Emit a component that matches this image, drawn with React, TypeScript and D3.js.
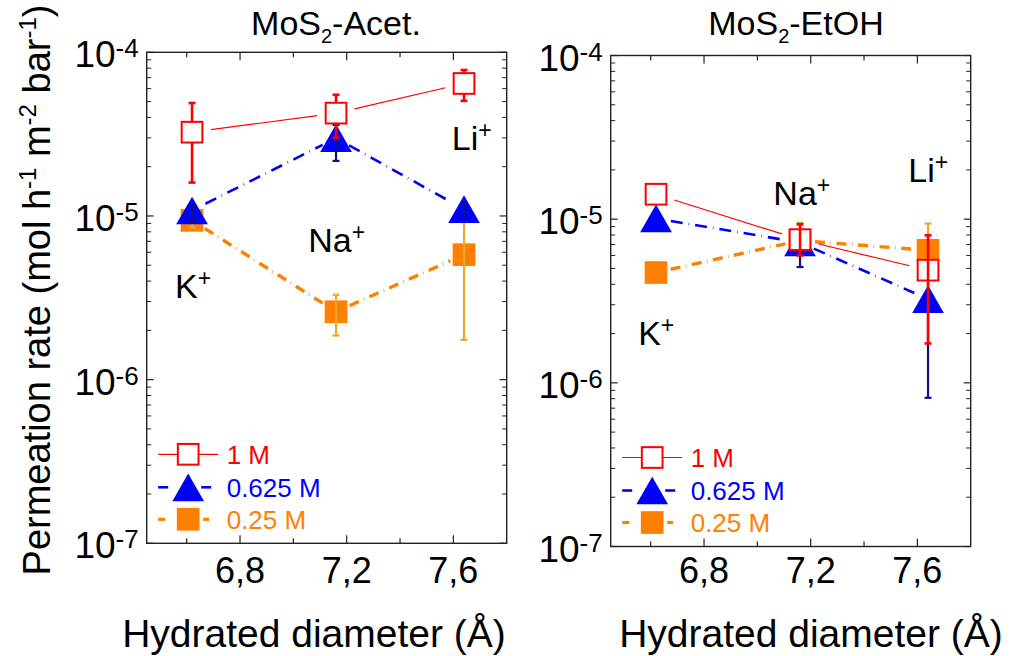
import React from "react";
import * as d3 from "d3";

// ---------- data ----------
const diameters = [6.62, 7.16, 7.64]; // K+, Na+, Li+
const xMajorTicks = [6.8, 7.2, 7.6];
const xMinorTicks = [6.6, 7.0, 7.4];
const xTickLabels = ["6,8", "7,2", "7,6"];
const yDecades = [-7, -6, -5, -4];
const seriesNames = ["1 M", "0.625 M", "0.25 M"];

// MoS2-Acet.
const acet1M = [3.25e-5, 4.25e-5, 6.45e-5];
const acet1MLo = [1.6e-5, 3.0e-5, 5.05e-5];
const acet1MHi = [4.9e-5, 5.5e-5, 7.8e-5];
const acet0625 = [1.08e-5, 2.99e-5, 1.1e-5];
const acet0625Lo = [0.93e-5, 2.17e-5, 0.98e-5];
const acet0625Hi = [1.18e-5, 3.6e-5, 1.2e-5];
const acet025 = [9.4e-6, 2.6e-6, 5.8e-6];
const acet025Lo = [8.5e-6, 1.86e-6, 1.75e-6];
const acet025Hi = [1.04e-5, 3.3e-6, 1.0e-5];

// MoS2-EtOH
const etoh1M = [1.42e-5, 7.5e-6, 4.88e-6];
const etoh1MLo = [null, 6.0e-6, 1.74e-6];
const etoh1MHi = [null, 9.3e-6, 7.97e-6];
const etoh0625 = [1.01e-5, 7.2e-6, 3.25e-6];
const etoh0625Lo = [null, 5.1e-6, 8.1e-7];
const etoh0625Hi = [null, 8.5e-6, 4.6e-6];
const etoh025 = [4.72e-6, 7.4e-6, 6.45e-6];
const etoh025Lo = [null, 6.5e-6, 3.3e-6];
const etoh025Hi = [null, 9.5e-6, 9.4e-6];

// ion annotations (data coordinates)
const acetLabels = [
  { ion: "K", x: 6.556, y: 3.15e-6 },
  { ion: "Na", x: 7.056, y: 6.05e-6 },
  { ion: "Li", x: 7.594, y: 2.53e-5 },
];
const etohLabels = [
  { ion: "K", x: 6.553, y: 1.7e-6 },
  { ion: "Na", x: 7.06, y: 1.22e-5 },
  { ion: "Li", x: 7.566, y: 1.69e-5 },
];

// ---------- styles ----------
const FONT = "'Liberation Sans', Arial, Helvetica, sans-serif";
const RED = "#ff0000";
const BLUE = "#0000ff";
const ORANGE = "#ff8000";
const NAVY = "#101080";
const GOLD = "#eaaa30";

type Style = {
  kind: "open" | "tri" | "sq";
  color: string;
  err: string;
  errW: number;
  lineW: number;
  dash?: string;
  gap: number;
};
const styles: Style[] = [
  { kind: "open", color: RED, err: RED, errW: 2.6, lineW: 1.2, gap: 19 },
  { kind: "tri", color: BLUE, err: NAVY, errW: 2.2, lineW: 2.6, dash: "12 6 0.6 6", gap: 15 },
  { kind: "sq", color: ORANGE, err: GOLD, errW: 2.2, lineW: 3.4, dash: "10 5.5 0.6 5.5", gap: 15 },
];

const SQ = 22.7;
const TW = 31.7;
const TH = 27.7;

function Marker({ kind, x, y }: { kind: string; x: number; y: number }) {
  if (kind === "open")
    return (
      <rect x={x - SQ / 2 + 1} y={y - SQ / 2 + 1} width={SQ - 2} height={SQ - 2} fill="#fff" stroke={RED} strokeWidth={2} />
    );
  if (kind === "sq") return <rect x={x - SQ / 2} y={y - SQ / 2} width={SQ} height={SQ} fill={ORANGE} />;
  const p = `M${x},${y - TH / 2}L${x + TW / 2},${y + TH / 2}L${x - TW / 2},${y + TH / 2}Z`;
  return <path d={p} fill={BLUE} />;
}

type Series = { v: number[]; lo: (number | null)[]; hi: (number | null)[] };

function Panel(props: {
  L: number;
  R: number;
  T: number;
  B: number;
  series: Series[];
  labels: { ion: string; x: number; y: number }[];
  errBehindOpen: boolean;
}) {
  const { L, R, T, B, series, labels, errBehindOpen } = props;
  const x = d3.scaleLinear().domain([6.45, 7.8]).range([L, R]);
  const y = d3.scaleLog().domain([1e-7, 1e-4]).range([B, T]);

  const minorY: number[] = [];
  for (let k = -7; k < -4; k++) for (let m = 2; m <= 9; m++) minorY.push(m * Math.pow(10, k));

  const axisColor = "#222";
  const order = [2, 1, 0];

  const errBars = (s: Series, st: Style) =>
    s.v.map((_, i) => {
      const lo = s.lo[i];
      const hi = s.hi[i];
      if (lo == null || hi == null) return null;
      const cx = x(diameters[i]);
      const cw = 3.5;
      return (
        <g key={"e" + i} stroke={st.err} strokeWidth={st.errW}>
          <line x1={cx} x2={cx} y1={y(hi)} y2={y(lo)} />
          <line x1={cx - cw} x2={cx + cw} y1={y(hi)} y2={y(hi)} />
          <line x1={cx - cw} x2={cx + cw} y1={y(lo)} y2={y(lo)} />
        </g>
      );
    });

  return (
    <g>
      {/* data */}
      {order.map((si) => {
        const s = series[si];
        const st = styles[si];
        const pts = s.v.map((v, i) => [x(diameters[i]), y(v)]);
        const segs = [];
        for (let i = 0; i < pts.length - 1; i++) {
          const [x0, y0] = pts[i];
          const [x1, y1] = pts[i + 1];
          const d = Math.hypot(x1 - x0, y1 - y0);
          const ux = (x1 - x0) / d;
          const uy = (y1 - y0) / d;
          segs.push(
            <line
              key={"l" + i}
              x1={x0 + ux * st.gap}
              y1={y0 + uy * st.gap}
              x2={x1 - ux * st.gap}
              y2={y1 - uy * st.gap}
              stroke={st.color}
              strokeWidth={st.lineW}
              strokeDasharray={st.dash}
            />
          );
        }
        const behind = st.kind === "open" && errBehindOpen;
        return (
          <g key={si}>
            {segs}
            {behind && errBars(s, st)}
            {pts.map((p, i) => (
              <Marker key={"m" + i} kind={st.kind} x={p[0]} y={p[1]} />
            ))}
            {!behind && errBars(s, st)}
          </g>
        );
      })}

      {/* frame */}
      <rect x={L} y={T} width={R - L} height={B - T} fill="none" stroke={axisColor} strokeWidth={1.4} />
      {/* x ticks */}
      {xMajorTicks.map((t) => (
        <g key={"xM" + t} stroke={axisColor} strokeWidth={1.2}>
          <line x1={x(t)} x2={x(t)} y1={B} y2={B - 8} />
          <line x1={x(t)} x2={x(t)} y1={T} y2={T + 8} />
        </g>
      ))}
      {xMinorTicks.map((t) => (
        <g key={"xm" + t} stroke={axisColor} strokeWidth={1.2}>
          <line x1={x(t)} x2={x(t)} y1={B} y2={B - 5} />
          <line x1={x(t)} x2={x(t)} y1={T} y2={T + 5} />
        </g>
      ))}
      {/* y ticks */}
      {yDecades.map((k) => (
        <g key={"yM" + k} stroke={axisColor} strokeWidth={1.2}>
          <line x1={L} x2={L + 7} y1={y(Math.pow(10, k))} y2={y(Math.pow(10, k))} />
          <line x1={R} x2={R - 7} y1={y(Math.pow(10, k))} y2={y(Math.pow(10, k))} />
        </g>
      ))}
      {minorY.map((v, i) => (
        <g key={"ym" + i} stroke={axisColor} strokeWidth={1}>
          <line x1={L} x2={L + 4.5} y1={y(v)} y2={y(v)} />
          <line x1={R} x2={R - 4.5} y1={y(v)} y2={y(v)} />
        </g>
      ))}

      {/* y tick labels */}
      {yDecades.map((k) => (
        <text key={"yl" + k} x={L - 8} y={y(Math.pow(10, k)) + 15} textAnchor="end" fontFamily={FONT} fontSize={37} fill="#000">
          10
          <tspan fontSize={26} dy={-10}>
            {String(k)}
          </tspan>
        </text>
      ))}
      {/* x tick labels */}
      {xMajorTicks.map((t, i) => (
        <text key={"xl" + t} x={x(t)} y={583} textAnchor="middle" fontFamily={FONT} fontSize={36} fill="#000">
          {xTickLabels[i]}
        </text>
      ))}

      {/* ion labels */}
      {labels.map((lb) => (
        <text key={lb.ion} x={x(lb.x)} y={y(lb.y)} fontFamily={FONT} fontSize={34} fill="#000">
          {lb.ion}
          <tspan fontSize={23} dy={-12}>
            +
          </tspan>
        </text>
      ))}

      {/* legend */}
      {seriesNames.map((name, i) => {
        const st = styles[i];
        const ly = B + [-89, -56, -24][i];
        const cx = L + 41.5;
        return (
          <g key={"lg" + i}>
            {i === 0 && <line x1={cx - 30} x2={cx + 30} y1={ly} y2={ly} stroke={RED} strokeWidth={1.2} />}
            {i === 1 && (
              <g stroke={BLUE} strokeWidth={2.6}>
                <line x1={cx - 30} x2={cx - 20} y1={ly} y2={ly} />
                <line x1={cx + 13} x2={cx + 23} y1={ly} y2={ly} />
              </g>
            )}
            {i === 2 && (
              <g stroke={ORANGE} strokeWidth={3.2}>
                <line x1={cx - 30} x2={cx - 23} y1={ly} y2={ly} />
                <line x1={cx + 15} x2={cx + 21} y1={ly} y2={ly} />
              </g>
            )}
            <Marker kind={st.kind} x={cx} y={ly} />
            <text x={L + 80} y={ly + 9.5} fontFamily={FONT} fontSize={26} fill={st.color}>
              {name}
            </text>
          </g>
        );
      })}
    </g>
  );
}

export default function App() {
  const acet: Series[] = [
    { v: acet1M, lo: acet1MLo, hi: acet1MHi },
    { v: acet0625, lo: acet0625Lo, hi: acet0625Hi },
    { v: acet025, lo: acet025Lo, hi: acet025Hi },
  ];
  const etoh: Series[] = [
    { v: etoh1M, lo: etoh1MLo, hi: etoh1MHi },
    { v: etoh0625, lo: etoh0625Lo, hi: etoh0625Hi },
    { v: etoh025, lo: etoh025Lo, hi: etoh025Hi },
  ];
  return (
    <svg width={1010} height={656} style={{ position: "absolute", left: 0, top: 0, background: "#fff" }}>
      <rect width={1010} height={656} fill="#fff" />
      <Panel L={146.7} R={506.7} T={52.3} B={543.3} series={acet} labels={acetLabels} errBehindOpen={true} />
      <Panel L={610.7} R={970.7} T={55.5} B={546.5} series={etoh} labels={etohLabels} errBehindOpen={false} />

      {/* titles */}
      <text x={336} y={35} textAnchor="middle" fontFamily={FONT} fontSize={34} fill="#000">
        MoS<tspan fontSize={20} dy={8}>2</tspan>
        <tspan dy={-8}>-Acet.</tspan>
      </text>
      <text x={796} y={35} textAnchor="middle" fontFamily={FONT} fontSize={34} fill="#000">
        MoS<tspan fontSize={20} dy={8}>2</tspan>
        <tspan dy={-8}>-EtOH</tspan>
      </text>

      {/* x axis titles */}
      <text x={314} y={647} textAnchor="middle" fontFamily={FONT} fontSize={39} fill="#000">
        Hydrated diameter (Å)
      </text>
      <text x={811} y={647} textAnchor="middle" fontFamily={FONT} fontSize={39} fill="#000">
        Hydrated diameter (Å)
      </text>

      {/* y axis title */}
      <text transform="translate(49.5,290) rotate(-90)" textAnchor="middle" fontFamily={FONT} fontSize={38} fill="#000">
        Permeation rate (mol h<tspan fontSize={24} dy={-14}>-1</tspan>
        <tspan dy={14}> m</tspan>
        <tspan fontSize={24} dy={-14}>-2</tspan>
        <tspan dy={14}> bar</tspan>
        <tspan fontSize={24} dy={-14}>-1</tspan>
        <tspan dy={14}>)</tspan>
      </text>
    </svg>
  );
}
